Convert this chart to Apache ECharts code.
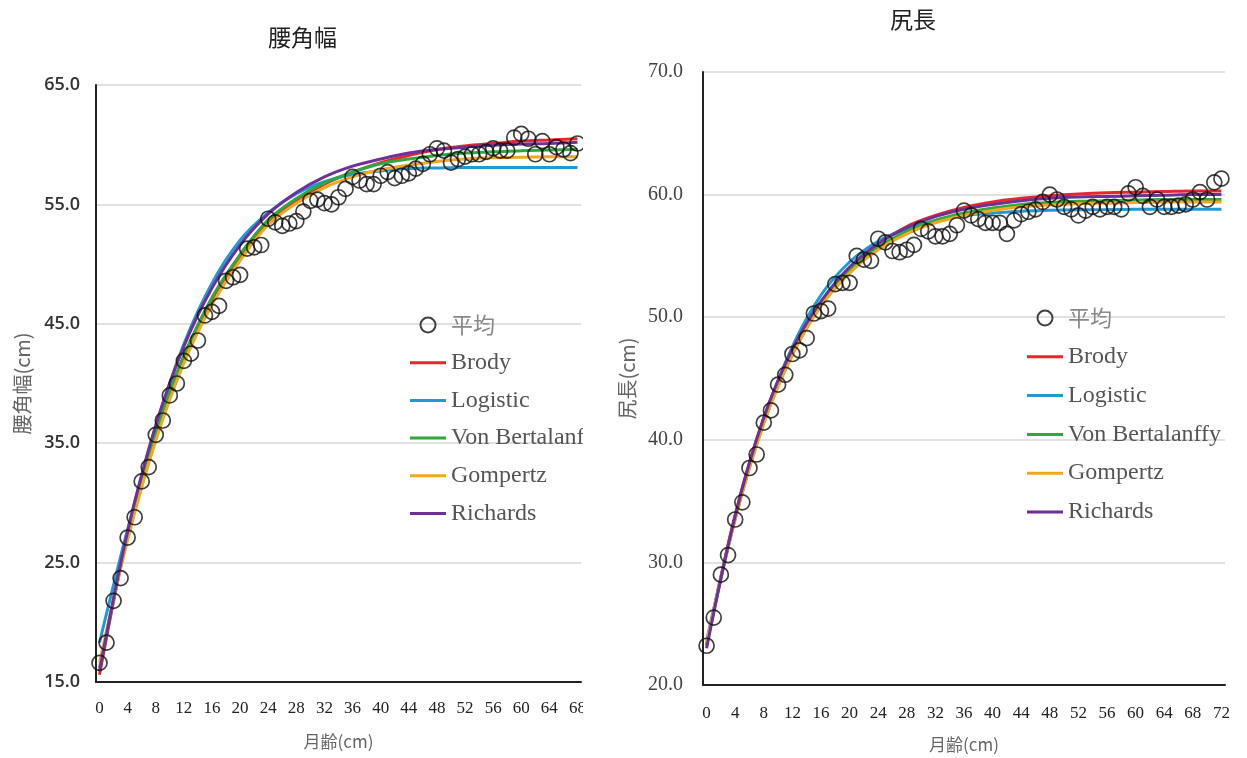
<!DOCTYPE html>
<html>
<head>
<meta charset="utf-8">
<script src="https://cdn.jsdelivr.net/npm/echarts@6/dist/echarts.min.js"></script>
<style>
  html, body { margin: 0; padding: 0; background: #fff; }
  #wrapL { position: absolute; left: 0; top: 0; width: 583px; height: 758px; overflow: hidden; }
  #chartL { width: 680px; height: 758px; }
  #wrapR { position: absolute; left: 583px; top: 0; width: 664px; height: 758px; overflow: hidden; }
  #chartR { width: 664px; height: 758px; }
</style>
</head>
<body>
<div id="wrapL"><div id="chartL"></div></div>
<div id="wrapR"><div id="chartR"></div></div>
<script>
// ---- 腰角幅 (hip width) ----
const monthsL = Array.from({ length: 69 }, (_, i) => String(i));
const meanL = [16.6,18.3,21.8,23.7,27.1,28.8,31.8,33.0,35.7,36.9,
               39.0,40.0,41.9,42.5,43.6,45.7,46.0,46.5,48.6,48.9,
               49.1,51.3,51.4,51.6,53.8,53.5,53.2,53.4,53.6,54.4,
               55.3,55.4,55.1,55.0,55.6,56.3,57.3,57.0,56.7,56.7,
               57.4,57.7,57.2,57.4,57.6,58.0,58.4,59.2,59.7,59.5,
               58.5,58.8,59.0,59.2,59.2,59.4,59.7,59.5,59.5,60.6,
               60.9,60.5,59.2,60.3,59.2,59.8,59.6,59.3,60.1];
const fitMonthsL = [0,4,8,12,16,20,24,28,32,36,40,44,48,52,56,60,64,68];
const brodyL    = [15.6,27.3,35.9,42.3,47.0,50.6,53.4,55.3,56.7,57.7,58.5,59.1,59.6,59.9,60.1,60.3,60.4,60.5];
const logisticL = [18.3,27.8,36.4,43.3,48.4,52.0,54.3,55.9,56.9,57.5,57.8,58.0,58.05,58.1,58.1,58.1,58.1,58.1];
const vonBertL  = [16.2,27.2,35.8,42.3,47.2,50.8,53.7,55.5,56.8,57.7,58.4,58.8,59.1,59.3,59.4,59.5,59.55,59.6];
const gompertzL = [16.6,26.9,35.2,41.7,46.6,50.3,53.3,55.1,56.4,57.3,57.9,58.3,58.6,58.8,58.9,58.95,59.0,59.0];
const richardsL = [15.9,27.6,36.5,43.1,48.0,51.6,54.2,56.0,57.3,58.2,58.8,59.3,59.6,59.8,59.95,60.05,60.1,60.2];

// ---- 尻長 (rump length) ----
const monthsR = Array.from({ length: 73 }, (_, i) => String(i));
const meanR = [23.2,25.5,29.0,30.6,33.5,34.9,37.7,38.8,41.4,42.4,
               44.5,45.3,47.0,47.3,48.3,50.3,50.5,50.7,52.7,52.8,
               52.8,55.0,54.7,54.6,56.4,56.1,55.4,55.3,55.5,55.9,
               57.2,57.0,56.6,56.6,56.8,57.5,58.7,58.3,58.0,57.7,
               57.7,57.7,56.8,57.9,58.4,58.6,58.8,59.4,60.0,59.6,
               59.0,58.8,58.3,58.7,59.0,58.8,59.0,59.0,58.8,60.1,
               60.6,59.9,59.0,59.6,59.0,59.0,59.1,59.2,59.6,60.2,
               59.6,61.0,61.3];
const fitMonthsR = [0,4,8,12,16,20,24,28,32,36,40,44,48,52,56,60,64,68,72];
const brodyR    = [23.2,33.9,41.8,47.3,51.2,54.0,56.0,57.4,58.3,58.95,59.4,59.7,59.9,60.05,60.15,60.2,60.25,60.3,60.3];
const logisticR = [23.6,33.6,41.6,47.6,51.8,54.5,56.2,57.2,57.9,58.3,58.5,58.65,58.72,58.76,58.78,58.8,58.8,58.8,58.8];
const vonBertR  = [23.3,33.6,41.4,47.0,51.0,53.8,55.7,57.0,57.9,58.5,58.9,59.2,59.35,59.45,59.5,59.55,59.6,59.6,59.6];
const gompertzR = [23.4,33.5,41.3,46.9,50.9,53.6,55.5,56.8,57.7,58.3,58.7,59.0,59.15,59.25,59.3,59.35,59.4,59.4,59.4];
const richardsR = [23.0,33.8,41.8,47.4,51.3,54.1,56.0,57.3,58.2,58.8,59.2,59.5,59.7,59.8,59.85,59.9,59.95,60.0,60.0];

const modelNames = ['Brody', 'Logistic', 'Von Bertalanffy', 'Gompertz', 'Richards'];
const modelColors = ['#e8262d', '#1f9ad6', '#2eaa3c', '#f2a81d', '#6f3198'];

const SERIF = '"Liberation Serif", "DejaVu Serif", serif';
const CJK = '"Noto Sans CJK JP", "Noto Sans", sans-serif';
// short horizontal bar used as the legend key of each fitted curve
const LINE_ICON = 'path://M0,0L36,0L36,3L0,3Z';

function buildOption(cfg) {
  const fits = [cfg.brody, cfg.logistic, cfg.vonBert, cfg.gompertz, cfg.richards];
  const series = [{
    name: '平均',
    type: 'scatter',
    z: 5,
    symbol: 'circle',
    symbolSize: 15,
    itemStyle: { color: 'rgba(0,0,0,0)', borderColor: '#111', borderWidth: 1.7 },
    data: cfg.mean.map((v, i) => [cfg.months[i], v])
  }];
  fits.forEach((arr, k) => {
    series.push({
      name: modelNames[k],
      type: 'line',
      smooth: 0.35,
      symbol: 'none',
      showSymbol: false,
      z: 2 + k * 0.1,
      lineStyle: { width: 3, color: modelColors[k] },
      itemStyle: { color: modelColors[k] },
      data: cfg.fitMonths.map((m, i) => [String(m), arr[i]])
    });
  });
  return {
    animation: false,
    backgroundColor: '#fff',
    title: {
      text: cfg.title,
      left: cfg.titleLeft,
      top: cfg.titleTop,
      padding: 0,
      textStyle: { fontFamily: CJK, fontSize: 23, fontWeight: 'normal', color: '#222' }
    },
    legend: {
      orient: 'vertical',
      left: cfg.legendLeft,
      top: cfg.legendTop,
      padding: 0,
      itemWidth: 36,
      itemHeight: 15,
      itemGap: cfg.legendGap,
      textStyle: { fontFamily: SERIF, fontSize: 24, color: '#555', lineHeight: 26 },
      data: [
        { name: '平均', textStyle: { fontFamily: CJK, fontSize: 22, color: '#888' } },
        ...modelNames.map(n => ({ name: n, icon: LINE_ICON }))
      ]
    },
    grid: { left: cfg.gridLeft, top: cfg.gridTop, width: cfg.gridWidth, height: cfg.gridHeight, containLabel: false },
    xAxis: {
      type: 'category',
      data: cfg.months,
      boundaryGap: true,
      name: '月齢(cm)',
      nameLocation: 'middle',
      nameGap: 51,
      nameTextStyle: { fontFamily: CJK, fontSize: 17, color: '#666' },
      axisLine: { lineStyle: { color: '#222', width: 2 } },
      axisTick: { show: false },
      axisLabel: {
        interval: 3,
        margin: cfg.xLabelMargin,
        fontFamily: SERIF,
        fontSize: 17,
        color: '#222'
      },
      splitLine: { show: false }
    },
    yAxis: {
      type: 'value',
      min: cfg.yMin,
      max: cfg.yMax,
      interval: 10,
      name: cfg.yName,
      nameLocation: 'middle',
      nameGap: cfg.yNameGap,
      nameTextStyle: { fontFamily: CJK, fontSize: cfg.yNameSize, color: '#666' },
      axisLine: { show: true, lineStyle: { color: '#222', width: 2 } },
      axisTick: { show: false },
      axisLabel: Object.assign({ formatter: v => v.toFixed(1) }, cfg.yLabel),
      splitLine: { lineStyle: { color: '#dad6d6', width: 1.5 } }
    },
    series
  };
}

const chartL = echarts.init(document.getElementById('chartL'), null, { renderer: 'canvas' });
chartL.setOption(buildOption({
  title: '腰角幅', titleLeft: 268, titleTop: 26,
  months: monthsL, mean: meanL, fitMonths: fitMonthsL,
  brody: brodyL, logistic: logisticL, vonBert: vonBertL, gompertz: gompertzL, richards: richardsL,
  legendLeft: 410, legendTop: 312, legendGap: 11.7,
  gridLeft: 96, gridTop: 85, gridWidth: 485, gridHeight: 597,
  xLabelMargin: 18,
  yMin: 15, yMax: 65, yName: '腰角幅(cm)', yNameGap: 64, yNameSize: 20,
  yLabel: { fontFamily: '"Open Sans", sans-serif', fontWeight: 600, fontSize: 18, color: '#333', margin: 16 }
}));

const chartR = echarts.init(document.getElementById('chartR'), null, { renderer: 'canvas' });
chartR.setOption(buildOption({
  title: '尻長', titleLeft: 307, titleTop: 8,
  months: monthsR, mean: meanR, fitMonths: fitMonthsR,
  brody: brodyR, logistic: logisticR, vonBert: vonBertR, gompertz: gompertzR, richards: richardsR,
  legendLeft: 444, legendTop: 305, legendGap: 12.8,
  gridLeft: 120, gridTop: 72, gridWidth: 522, gridHeight: 613,
  xLabelMargin: 20,
  yMin: 20, yMax: 70, yName: '尻長(cm)', yNameGap: 64, yNameSize: 20,
  yLabel: { fontFamily: SERIF, fontSize: 20, color: '#444', margin: 20 }
}));
</script>
</body>
</html>
